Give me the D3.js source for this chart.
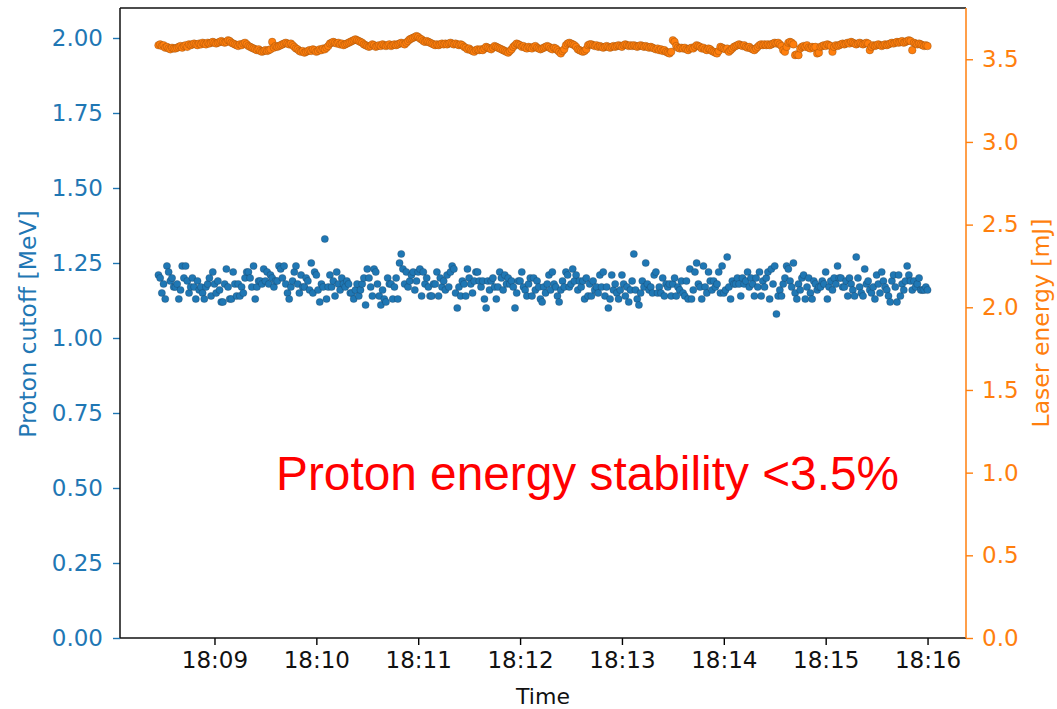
<!DOCTYPE html>
<html>
<head>
<meta charset="utf-8">
<script src="https://cdn.jsdelivr.net/npm/d3@7"></script>
<style>
  html, body { margin: 0; padding: 0; background: #fff; }
  svg { display: block; }
</style>
</head>
<body>
<svg id="chart" width="1057" height="709"></svg>
<script>
// Shot log: one shot per second starting at 18:08:27
const shotStart = "18:08:27";
const shotIntervalSec = 1;

// Proton cutoff energy per shot [MeV]
const protonCutoff = [
  1.21, 1.20, 1.15, 1.18, 1.13, 1.24, 1.22, 1.19, 1.20, 1.17,
  1.17, 1.18, 1.13, 1.16, 1.24, 1.20, 1.24, 1.19, 1.15, 1.17,
  1.20, 1.17, 1.13, 1.19, 1.16, 1.17, 1.15, 1.13, 1.17, 1.18,
  1.20, 1.14, 1.22, 1.18, 1.15, 1.19, 1.16, 1.12, 1.12, 1.18,
  1.23, 1.17, 1.13, 1.13, 1.22, 1.18, 1.14, 1.18, 1.14, 1.17,
  1.15, 1.20, 1.22, 1.22, 1.20, 1.17, 1.24, 1.13, 1.17, 1.19,
  1.19, 1.18, 1.23, 1.19, 1.22, 1.18, 1.21, 1.20, 1.17, 1.19,
  1.19, 1.24, 1.23, 1.20, 1.24, 1.18, 1.15, 1.13, 1.17, 1.19,
  1.22, 1.24, 1.18, 1.15, 1.21, 1.17, 1.17, 1.20, 1.19, 1.16,
  1.25, 1.15, 1.22, 1.21, 1.16, 1.12, 1.18, 1.17, 1.33, 1.13,
  1.17, 1.21, 1.17, 1.19, 1.14, 1.22, 1.18, 1.16, 1.20, 1.18,
  1.17, 1.19, 1.18, 1.15, 1.15, 1.13, 1.16, 1.18, 1.14, 1.16,
  1.18, 1.20, 1.11, 1.23, 1.20, 1.17, 1.14, 1.23, 1.22, 1.18,
  1.14, 1.11, 1.16, 1.13, 1.12, 1.20, 1.18, 1.18, 1.13, 1.17,
  1.20, 1.13, 1.25, 1.28, 1.23, 1.18, 1.22, 1.17, 1.19, 1.21,
  1.22, 1.16, 1.19, 1.22, 1.23, 1.14, 1.22, 1.18, 1.20, 1.17,
  1.14, 1.14, 1.18, 1.18, 1.22, 1.14, 1.20, 1.17, 1.19, 1.16,
  1.21, 1.17, 1.22, 1.24, 1.23, 1.15, 1.10, 1.17, 1.14, 1.19,
  1.18, 1.14, 1.23, 1.20, 1.18, 1.15, 1.19, 1.22, 1.22, 1.19,
  1.17, 1.19, 1.13, 1.10, 1.19, 1.16, 1.19, 1.20, 1.17, 1.13,
  1.17, 1.22, 1.20, 1.16, 1.21, 1.18, 1.20, 1.18, 1.19, 1.17,
  1.10, 1.15, 1.19, 1.19, 1.22, 1.17, 1.16, 1.14, 1.18, 1.20,
  1.14, 1.20, 1.16, 1.19, 1.17, 1.13, 1.12, 1.17, 1.15, 1.18,
  1.21, 1.16, 1.22, 1.18, 1.17, 1.14, 1.12, 1.16, 1.19, 1.17,
  1.22, 1.21, 1.17, 1.18, 1.23, 1.19, 1.21, 1.16, 1.19, 1.17,
  1.19, 1.13, 1.20, 1.14, 1.18, 1.14, 1.19, 1.16, 1.17, 1.15,
  1.21, 1.17, 1.22, 1.14, 1.17, 1.10, 1.13, 1.21, 1.16, 1.18,
  1.15, 1.13, 1.16, 1.21, 1.18, 1.14, 1.17, 1.12, 1.16, 1.19,
  1.28, 1.16, 1.13, 1.11, 1.15, 1.19, 1.17, 1.25, 1.18, 1.16,
  1.17, 1.15, 1.21, 1.22, 1.15, 1.17, 1.15, 1.20, 1.14, 1.18,
  1.17, 1.18, 1.14, 1.18, 1.20, 1.14, 1.17, 1.16, 1.19, 1.15,
  1.14, 1.19, 1.13, 1.23, 1.13, 1.16, 1.22, 1.25, 1.18, 1.17,
  1.13, 1.24, 1.17, 1.15, 1.22, 1.19, 1.16, 1.19, 1.17, 1.18,
  1.22, 1.15, 1.24, 1.15, 1.16, 1.27, 1.17, 1.13, 1.19, 1.18,
  1.18, 1.20, 1.18, 1.14, 1.20, 1.18, 1.19, 1.22, 1.17, 1.20,
  1.18, 1.14, 1.20, 1.17, 1.22, 1.14, 1.19, 1.17, 1.20, 1.22,
  1.13, 1.23, 1.18, 1.24, 1.08, 1.14, 1.16, 1.14, 1.18, 1.20,
  1.24, 1.23, 1.19, 1.17, 1.25, 1.15, 1.13, 1.18, 1.16, 1.20,
  1.21, 1.13, 1.17, 1.20, 1.15, 1.13, 1.19, 1.18, 1.16, 1.17,
  1.17, 1.19, 1.18, 1.22, 1.13, 1.17, 1.19, 1.16, 1.20, 1.18,
  1.24, 1.20, 1.20, 1.17, 1.17, 1.19, 1.14, 1.20, 1.18, 1.16,
  1.14, 1.27, 1.20, 1.17, 1.15, 1.14, 1.23, 1.18, 1.19, 1.16,
  1.15, 1.17, 1.13, 1.21, 1.18, 1.15, 1.22, 1.19, 1.17, 1.16,
  1.14, 1.12, 1.19, 1.21, 1.17, 1.12, 1.21, 1.14, 1.18, 1.16,
  1.19, 1.24, 1.21, 1.19, 1.16, 1.19, 1.17, 1.18, 1.20, 1.16,
  1.16, 1.16, 1.17, 1.16
];

// Laser energy per shot [mJ]
const laserEnergy = [
  3.585, 3.590, 3.580, 3.585, 3.570, 3.575, 3.565, 3.560, 3.570, 3.565,
  3.565, 3.570, 3.575, 3.580, 3.570, 3.580, 3.585, 3.575, 3.590, 3.585,
  3.590, 3.595, 3.590, 3.585, 3.595, 3.590, 3.600, 3.595, 3.590, 3.600,
  3.595, 3.600, 3.605, 3.600, 3.595, 3.600, 3.605, 3.610, 3.605, 3.600,
  3.605, 3.615, 3.610, 3.600, 3.595, 3.590, 3.585, 3.580, 3.590, 3.585,
  3.595, 3.600, 3.590, 3.580, 3.575, 3.570, 3.565, 3.560, 3.555, 3.560,
  3.550, 3.545, 3.550, 3.555, 3.550, 3.555, 3.560, 3.605, 3.570, 3.580,
  3.575, 3.580, 3.585, 3.590, 3.595, 3.600, 3.595, 3.590, 3.595, 3.585,
  3.575, 3.565, 3.560, 3.550, 3.545, 3.550, 3.540, 3.545, 3.550, 3.555,
  3.550, 3.560, 3.555, 3.545, 3.550, 3.560, 3.555, 3.565, 3.560, 3.570,
  3.580, 3.595, 3.600, 3.605, 3.600, 3.595, 3.600, 3.590, 3.595, 3.585,
  3.590, 3.595, 3.600, 3.605, 3.610, 3.615, 3.620, 3.615, 3.610, 3.605,
  3.600, 3.590, 3.585, 3.580, 3.575, 3.580, 3.590, 3.585, 3.575, 3.580,
  3.585, 3.580, 3.590, 3.585, 3.580, 3.585, 3.590, 3.580, 3.585, 3.590,
  3.585, 3.590, 3.595, 3.600, 3.595, 3.590, 3.600, 3.610, 3.620, 3.625,
  3.630, 3.635, 3.640, 3.635, 3.625, 3.620, 3.610, 3.605, 3.610, 3.605,
  3.600, 3.595, 3.590, 3.585, 3.590, 3.585, 3.590, 3.595, 3.590, 3.595,
  3.590, 3.595, 3.600, 3.595, 3.590, 3.595, 3.590, 3.585, 3.590, 3.585,
  3.575, 3.570, 3.560, 3.565, 3.555, 3.550, 3.545, 3.555, 3.560, 3.555,
  3.560, 3.555, 3.565, 3.575, 3.570, 3.565, 3.560, 3.570, 3.580, 3.575,
  3.570, 3.565, 3.560, 3.555, 3.550, 3.545, 3.540, 3.550, 3.560, 3.575,
  3.585, 3.595, 3.590, 3.585, 3.575, 3.580, 3.570, 3.565, 3.575, 3.570,
  3.565, 3.575, 3.580, 3.570, 3.565, 3.560, 3.565, 3.570, 3.575, 3.580,
  3.575, 3.565, 3.560, 3.570, 3.565, 3.555, 3.545, 3.535, 3.550, 3.560,
  3.585, 3.595, 3.600, 3.595, 3.590, 3.585, 3.575, 3.560, 3.555, 3.550,
  3.545, 3.550, 3.560, 3.585, 3.590, 3.590, 3.585, 3.580, 3.585, 3.575,
  3.580, 3.575, 3.570, 3.575, 3.580, 3.575, 3.570, 3.575, 3.580, 3.575,
  3.580, 3.585, 3.580, 3.575, 3.585, 3.590, 3.585, 3.580, 3.585, 3.580,
  3.585, 3.580, 3.575, 3.580, 3.585, 3.580, 3.575, 3.580, 3.575, 3.570,
  3.575, 3.570, 3.565, 3.560, 3.565, 3.555, 3.560, 3.550, 3.555, 3.545,
  3.540, 3.535, 3.545, 3.615, 3.605, 3.580, 3.570, 3.565, 3.570, 3.565,
  3.570, 3.560, 3.555, 3.565, 3.570, 3.565, 3.575, 3.585, 3.580, 3.575,
  3.565, 3.570, 3.560, 3.555, 3.565, 3.560, 3.550, 3.545, 3.540, 3.535,
  3.550, 3.575, 3.570, 3.565, 3.560, 3.565, 3.545, 3.555, 3.565, 3.575,
  3.580, 3.585, 3.590, 3.585, 3.580, 3.585, 3.575, 3.570, 3.575, 3.565,
  3.560, 3.555, 3.565, 3.575, 3.585, 3.590, 3.585, 3.590, 3.585, 3.590,
  3.585, 3.590, 3.595, 3.600, 3.595, 3.600, 3.590, 3.580, 3.555, 3.545,
  3.575, 3.600, 3.605, 3.600, 3.590, 3.525, 3.530, 3.525, 3.565, 3.575,
  3.580, 3.575, 3.585, 3.570, 3.565, 3.575, 3.570, 3.575, 3.535, 3.540,
  3.575, 3.580, 3.585, 3.580, 3.590, 3.585, 3.580, 3.545, 3.575, 3.585,
  3.580, 3.585, 3.590, 3.595, 3.590, 3.595, 3.600, 3.595, 3.605, 3.600,
  3.595, 3.590, 3.595, 3.600, 3.595, 3.590, 3.595, 3.600, 3.595, 3.555,
  3.575, 3.585, 3.580, 3.585, 3.590, 3.585, 3.580, 3.585, 3.590, 3.585,
  3.590, 3.595, 3.600, 3.595, 3.600, 3.605, 3.600, 3.605, 3.610, 3.600,
  3.605, 3.610, 3.615, 3.610, 3.555, 3.600, 3.595, 3.590, 3.595, 3.590,
  3.585, 3.580, 3.585, 3.580
];

// Axis ticks
const timeTicks = ["18:09", "18:10", "18:11", "18:12", "18:13", "18:14", "18:15", "18:16"];
const protonTicks = [0, 0.25, 0.5, 0.75, 1.0, 1.25, 1.5, 1.75, 2.0];
const laserTicks = [0, 0.5, 1.0, 1.5, 2.0, 2.5, 3.0, 3.5];
const protonLimit = 2.1;
const laserLimit = 3.81;

const annotation = "Proton energy stability <3.5%";

const C0 = "#1f77b4";
const C1 = "#ff7f0e";
const tickFontFamily = "'DejaVu Sans', sans-serif";

const svg = d3.select("#chart");
const plot = { left: 120, right: 966, top: 8, bottom: 638 };

const parseHM = d3.timeParse("%H:%M:%S");
const t0 = parseHM(shotStart);
const shots = protonCutoff.map((p, i) => ({
  time: d3.timeSecond.offset(t0, i * shotIntervalSec),
  proton: p,
  laser: laserEnergy[i]
}));

// time axis with 5% padding on both ends
const tExtent = d3.extent(shots, d => d.time);
const span = tExtent[1] - tExtent[0];
const x = d3.scaleTime()
  .domain([new Date(+tExtent[0] - 0.05 * span), new Date(+tExtent[1] + 0.05 * span)])
  .range([plot.left, plot.right]);

const yL = d3.scaleLinear().domain([0, protonLimit]).range([plot.bottom, plot.top]);
const yR = d3.scaleLinear().domain([0, laserLimit]).range([plot.bottom, plot.top]);

const tickFont = 23;

// Scatter: proton cutoff
svg.append("g")
  .selectAll("circle")
  .data(shots)
  .join("circle")
  .attr("cx", d => x(d.time))
  .attr("cy", d => yL(d.proton))
  .attr("r", 3.6)
  .attr("fill", C0)
  .attr("stroke", "#1a3d5c")
  .attr("stroke-opacity", 0.55)
  .attr("stroke-width", 0.6);

// Scatter: laser energy
svg.append("g")
  .selectAll("circle")
  .data(shots)
  .join("circle")
  .attr("cx", d => x(d.time))
  .attr("cy", d => yR(d.laser))
  .attr("r", 3.8)
  .attr("fill", C1)
  .attr("stroke", "#7a3c05")
  .attr("stroke-opacity", 0.55)
  .attr("stroke-width", 0.6);

// Bottom axis
const parseTick = d3.timeParse("%H:%M");
const xAxis = d3.axisBottom(x)
  .tickValues(timeTicks.map(parseTick))
  .tickFormat(d3.timeFormat("%H:%M"))
  .tickSize(7).tickSizeOuter(0).tickPadding(7);
const gx = svg.append("g").attr("transform", `translate(0,${plot.bottom})`).call(xAxis);
gx.select(".domain").remove();
gx.selectAll(".tick line").attr("stroke", "#000").attr("stroke-width", 1.4);
gx.selectAll(".tick text").style("font-size", tickFont + "px").attr("fill", "#111")
  .style("font-family", tickFontFamily);

// Left axis
const yAxisL = d3.axisLeft(yL)
  .tickValues(protonTicks)
  .tickFormat(d3.format(".2f"))
  .tickSize(7).tickSizeOuter(0).tickPadding(10);
const gl = svg.append("g").attr("transform", `translate(${plot.left},0)`).call(yAxisL);
gl.select(".domain").remove();
gl.selectAll(".tick line").attr("stroke", C0).attr("stroke-width", 1.4);
gl.selectAll(".tick text").style("font-size", tickFont + "px").attr("fill", C0)
  .style("font-family", tickFontFamily);

// Right axis
const yAxisR = d3.axisRight(yR)
  .tickValues(laserTicks)
  .tickFormat(d3.format(".1f"))
  .tickSize(7).tickSizeOuter(0).tickPadding(9);
const gr = svg.append("g").attr("transform", `translate(${plot.right},0)`).call(yAxisR);
gr.select(".domain").remove();
gr.selectAll(".tick line").attr("stroke", C1).attr("stroke-width", 1.4);
gr.selectAll(".tick text").style("font-size", tickFont + "px").attr("fill", C1)
  .style("font-family", tickFontFamily);

// Frame
const frame = svg.append("g").attr("fill", "none").attr("stroke-width", 1.5);
frame.append("line").attr("x1", plot.left).attr("x2", plot.left)
  .attr("y1", plot.top).attr("y2", plot.bottom).attr("stroke", "#111");
frame.append("line").attr("x1", plot.left).attr("x2", plot.right)
  .attr("y1", plot.top).attr("y2", plot.top).attr("stroke", "#111");
frame.append("line").attr("x1", plot.left).attr("x2", plot.right)
  .attr("y1", plot.bottom).attr("y2", plot.bottom).attr("stroke", "#111");
frame.append("line").attr("x1", plot.right).attr("x2", plot.right)
  .attr("y1", plot.top).attr("y2", plot.bottom).attr("stroke", C1);

// Axis titles
svg.append("text")
  .attr("x", (plot.left + plot.right) / 2).attr("y", 704)
  .attr("text-anchor", "middle").attr("fill", "#111")
  .style("font-family", tickFontFamily).style("font-size", "22px")
  .text("Time");

svg.append("text")
  .attr("transform", `translate(36,${(plot.top + plot.bottom) / 2 + 1}) rotate(-90)`)
  .attr("text-anchor", "middle").attr("fill", C0)
  .style("font-family", tickFontFamily).style("font-size", "23.5px")
  .text("Proton cutoff [MeV]");

svg.append("text")
  .attr("transform", `translate(1049,${(plot.top + plot.bottom) / 2}) rotate(-90)`)
  .attr("text-anchor", "middle").attr("fill", C1)
  .style("font-family", tickFontFamily).style("font-size", "23.5px")
  .text("Laser energy [mJ]");

// Annotation
svg.append("text")
  .attr("x", 276).attr("y", 490)
  .style("font-family", "'Liberation Sans', Arial, sans-serif")
  .style("font-size", "47.8px").attr("fill", "#ff0000")
  .text(annotation);
</script>
</body>
</html>
